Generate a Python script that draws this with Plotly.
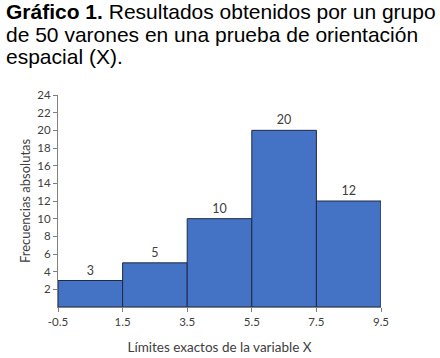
import plotly.graph_objects as go

bin_edges = [-0.5, 1.5, 3.5, 5.5, 7.5, 9.5]
frequencies = [3, 5, 10, 20, 12]
x_tick_labels = ["-0.5", "1.5", "3.5", "5.5", "7.5", "9.5"]
y_tick_vals = [2, 4, 6, 8, 10, 12, 14, 16, 18, 20, 22, 24]
title_lines = [
    "<b>Gráfico 1.</b> Resultados obtenidos por un grupo",
    "de 50 varones en una prueba de orientación",
    "espacial (X).",
]

centers = [(bin_edges[i] + bin_edges[i + 1]) / 2 for i in range(len(frequencies))]
widths = [bin_edges[i + 1] - bin_edges[i] for i in range(len(frequencies))]

fig = go.Figure(go.Bar(
    x=centers, y=frequencies, width=widths,
    marker=dict(color="#4472C4", line=dict(color="#1f2a44", width=1)),
    text=[str(v) for v in frequencies], textposition="outside",
    textfont=dict(family="Lato, Open Sans, sans-serif", size=12.5, color="#404040"),
    cliponaxis=False, hoverinfo="skip",
))

plot_h = 358 - 95 - 51
annotations = []
for i, line in enumerate(title_lines):
    top_px = -2 + i * 22.5
    annotations.append(dict(
        xref="paper", yref="paper", x=-54 / 323, y=(358 - 51 - top_px) / plot_h,
        xanchor="left", yanchor="top", align="left", showarrow=False,
        text=line,
        font=dict(family="Liberation Sans, Arial, sans-serif", size=21, color="black"),
    ))

fig.update_layout(
    width=440, height=358,
    margin=dict(l=58, r=59, t=95, b=51),
    paper_bgcolor="white", plot_bgcolor="white",
    showlegend=False,
    font=dict(family="Lato, Open Sans, sans-serif", color="#404040"),
    xaxis=dict(
        range=[-0.5, 9.5], tickvals=bin_edges, ticktext=x_tick_labels, automargin=False,
        showgrid=False, zeroline=False, showline=True, linecolor="#808080", linewidth=1,
        ticks="outside", ticklen=4, tickcolor="#808080",
        tickfont=dict(size=11.5, color="#404040"),
        title=dict(text="Límites exactos de la variable X", font=dict(size=13.5, color="#404040"), standoff=15),
    ),
    yaxis=dict(
        range=[0, 24], tickvals=y_tick_vals, automargin=False,
        showgrid=False, zeroline=False, showline=True, linecolor="#808080", linewidth=1,
        ticks="outside", ticklen=4, tickcolor="#808080",
        tickfont=dict(size=11.5, color="#404040"),
        title=dict(text="Frecuencias absolutas", font=dict(size=13, color="#404040"), standoff=3),
    ),
    annotations=annotations,
)

fig.write_html(
    "out.html",
    config={"displayModeBar": False},
    post_script="document.body.style.margin='0';document.body.style.padding='0';",
)
